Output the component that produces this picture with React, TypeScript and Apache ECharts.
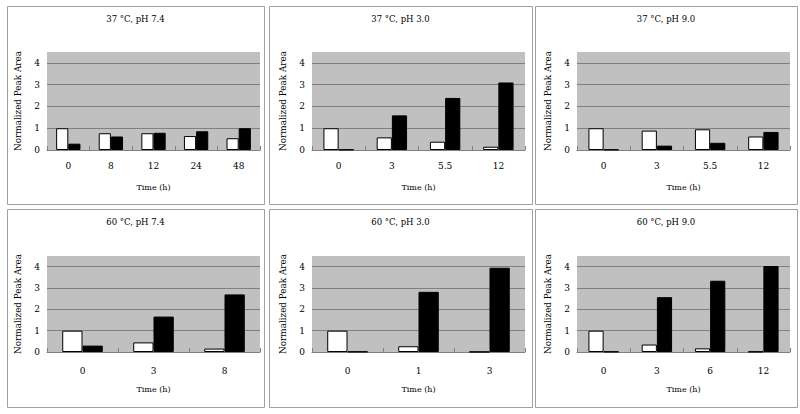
import React, { useEffect, useRef } from "react";
import * as echarts from "echarts";

const titles = ["37 °C, pH 7.4", "37 °C, pH 3.0", "37 °C, pH 9.0", "60 °C, pH 7.4", "60 °C, pH 3.0", "60 °C, pH 9.0"];

const times1 = ["0", "8", "12", "24", "48"];
const white1 = [1.0, 0.77, 0.77, 0.64, 0.54];
const black1 = [0.29, 0.62, 0.79, 0.86, 1.0];

const times2 = ["0", "3", "5.5", "12"];
const white2 = [1.0, 0.58, 0.38, 0.15];
const black2 = [0.02, 1.59, 2.39, 3.1];

const times3 = ["0", "3", "5.5", "12"];
const white3 = [1.0, 0.89, 0.95, 0.62];
const black3 = [0.02, 0.2, 0.33, 0.83];

const times4 = ["0", "3", "8"];
const white4 = [1.0, 0.45, 0.16];
const black4 = [0.3, 1.66, 2.7];

const times5 = ["0", "1", "3"];
const white5 = [1.0, 0.27, 0.01];
const black5 = [0.02, 2.82, 3.95];

const times6 = ["0", "3", "6", "12"];
const white6 = [1.0, 0.35, 0.17, 0.02];
const black6 = [0.02, 2.57, 3.34, 4.03];

const yTicks = ["0", "1", "2", "3", "4"];

const yAxisName = "Normalized Peak Area";
const xAxisName = "Time (h)";

const panels = [
  { cats: times1, w: white1, b: black1 },
  { cats: times2, w: white2, b: black2 },
  { cats: times3, w: white3, b: black3 },
  { cats: times4, w: white4, b: black4 },
  { cats: times5, w: white5, b: black5 },
  { cats: times6, w: white6, b: black6 },
];

const FONT = "DejaVu Serif";

export default function App() {
  const ref = useRef<HTMLDivElement>(null);
  useEffect(() => {
    if (!ref.current) return;
    const chart = echarts.init(ref.current, undefined, { renderer: "svg" });

    const boxX = [[7, 264], [269, 532], [535, 797]];
    const boxY = [[6, 204], [209, 407]];
    const plotLeft = [47, 312, 577];
    const plotTop = [52, 256];
    const plotH = [98, 96];
    const plotW = 213;
    const labelMargin = [11, 14];

    const grids: any[] = [];
    const xAxes: any[] = [];
    const yAxes: any[] = [];
    const series: any[] = [];
    const graphics: any[] = [];

    panels.forEach((p, i) => {
      const col = i % 3;
      const row = Math.floor(i / 3);
      graphics.push({
        type: "rect",
        shape: {
          x: boxX[col][0] + 0.5,
          y: boxY[row][0] + 0.5,
          width: boxX[col][1] - boxX[col][0],
          height: boxY[row][1] - boxY[row][0],
        },
        style: { fill: "#ffffff", stroke: "#a0a0a0", lineWidth: 1 },
        z: -10,
      });
      graphics.push({
        type: "text",
        x: (boxX[col][0] + boxX[col][1]) / 2,
        y: boxY[row][0] + 13,
        style: {
          text: titles[i],
          fontFamily: FONT,
          fontSize: 8.5,
          fill: "#000",
          align: "center",
          verticalAlign: "middle",
        },
      });
      grids.push({
        left: plotLeft[col],
        top: plotTop[row],
        width: plotW,
        height: plotH[row],
        show: true,
        backgroundColor: "#c0c0c0",
        borderWidth: 0,
      });
      xAxes.push({
        type: "category",
        gridIndex: i,
        data: p.cats,
        name: xAxisName,
        nameLocation: "middle",
        nameGap: 33,
        nameTextStyle: { fontFamily: FONT, fontSize: 8, color: "#000" },
        axisLine: { show: true, lineStyle: { color: "#808080", width: 1 } },
        axisTick: { show: true, inside: true, length: 4, lineStyle: { color: "#808080" } },
        axisLabel: { fontFamily: FONT, fontSize: 9, color: "#000", margin: labelMargin[row] },
        splitLine: { show: false },
      });
      yAxes.push({
        type: "value",
        gridIndex: i,
        min: 0,
        max: 4.5,
        interval: 1,
        name: yAxisName,
        nameLocation: "middle",
        nameGap: 25,
        nameRotate: 90,
        nameTextStyle: { fontFamily: FONT, fontSize: 8.8, color: "#000" },
        axisLine: { show: false },
        axisTick: { show: false },
        axisLabel: {
          fontFamily: FONT,
          fontSize: 9,
          color: "#000",
          margin: 7,
          showMaxLabel: false,
          formatter: (v: number) => (yTicks.includes(String(v)) ? String(v) : ""),
        },
        splitLine: { show: true, showMaxLine: false, showMinLine: false, lineStyle: { color: "#808080", width: 1 } },
      });
      series.push({
        type: "bar",
        xAxisIndex: i,
        yAxisIndex: i,
        data: p.w,
        barGap: "0%",
        barCategoryGap: "42.9%",
        itemStyle: { color: "#ffffff", borderColor: "#000000", borderWidth: 1 },
      });
      series.push({
        type: "bar",
        xAxisIndex: i,
        yAxisIndex: i,
        data: p.b,
        barGap: "0%",
        barCategoryGap: "42.9%",
        itemStyle: { color: "#000000", borderColor: "#000000", borderWidth: 1 },
      });
    });

    chart.setOption({
      animation: false,
      backgroundColor: "#ffffff",
      grid: grids,
      xAxis: xAxes,
      yAxis: yAxes,
      series,
      graphic: graphics,
    });
    return () => chart.dispose();
  }, []);
  return <div ref={ref} style={{ width: 800, height: 414, position: "absolute", left: 0, top: 0 }} />;
}
